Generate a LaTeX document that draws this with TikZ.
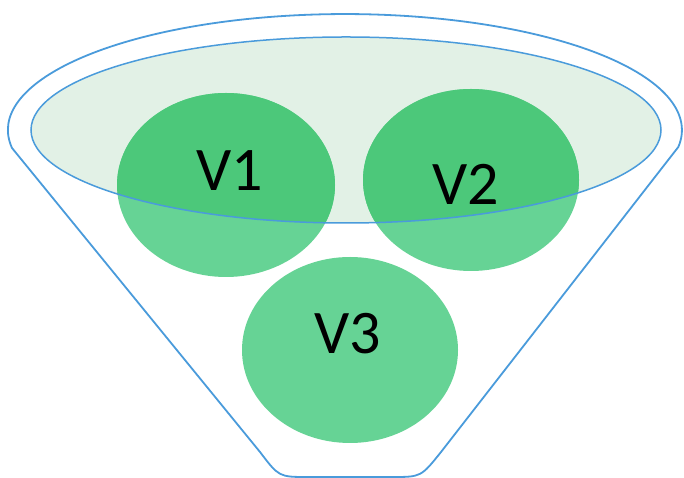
\documentclass[tikz,border=0pt]{standalone}
\usepackage{fontspec}
\setsansfont{Carlito}
\usetikzlibrary{positioning}
\definecolor{funnelBlue}{HTML}{4A9BDB}
\definecolor{liquidGreen}{HTML}{E2F1E6}
\definecolor{ballGreen}{HTML}{66D395}
\definecolor{ballDeep}{HTML}{4CC87A}

\begin{document}
\begin{tikzpicture}[x=1pt, y=1pt,
    vlabel/.style={font=\sffamily\fontsize{62}{62}\selectfont, text=black, inner sep=0pt}]
    \useasboundingbox (0,0) rectangle (684,478);

    % Funnel outline: rim arc, two sides, rounded bottom
    \draw[funnelBlue, line width=1.8pt, line join=round] (12,330)
        arc[start angle=188.9, end angle=-8.4, x radius=337, y radius=116]
        -- (441,26) .. controls (421,1) .. (392,1)
        -- (308,1) .. controls (279,1) .. (260,26) -- cycle;

    % Liquid surface
    \fill[liquidGreen] (346,348) ellipse[x radius=315, y radius=93];

    % Balls
    \fill[ballGreen] (226,293) ellipse[x radius=109, y radius=92];
    \fill[ballGreen] (471,298) ellipse[x radius=108, y radius=91];
    \fill[ballGreen] (350,128) ellipse[x radius=108, y radius=93];

    % Parts of the balls under the surface
    \begin{scope}
        \clip (346,348) ellipse[x radius=315, y radius=93];
        \fill[ballDeep] (226,293) ellipse[x radius=109, y radius=92];
        \fill[ballDeep] (471,298) ellipse[x radius=108, y radius=91];
    \end{scope}

    \draw[funnelBlue, line width=1.5pt] (346,348) ellipse[x radius=315, y radius=93];

    \node[vlabel] (v1) at (230,307) {V1};
    \node[vlabel] (v2) at (466,294) {V2};
    \node[vlabel] (v3) at (348,144) {V3};
\end{tikzpicture}
\end{document}
